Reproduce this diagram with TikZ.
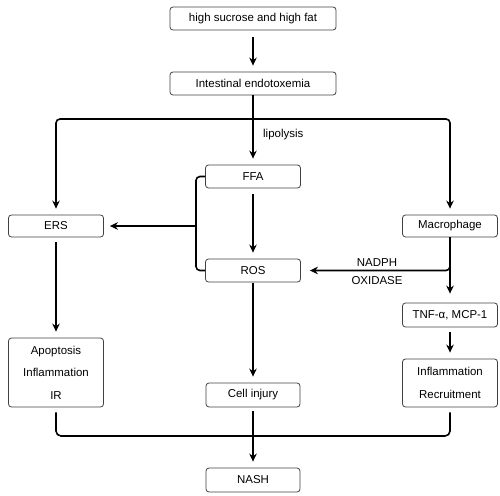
\documentclass[tikz,border=0pt]{standalone}
\usepackage{fontspec}
\setmainfont{Liberation Sans}
\usetikzlibrary{arrows.meta}
\begin{document}
\begin{tikzpicture}[x=1bp,y=-1bp,
  box/.style={draw=black!75,line width=0.8bp,rounded corners=3bp,inner sep=0pt,
    font=\fontsize{11.5}{22.5}\selectfont,align=center},
  ln/.style={line width=1.6bp,black},
  arr/.style={ln,-{Stealth[length=8bp,width=7.5bp]},shorten >=6bp},
  lbl/.style={font=\fontsize{11.5}{12}\selectfont,inner sep=0pt}]
\useasboundingbox (0,0) rectangle (500,496);
\node[box,minimum width=166bp,minimum height=23bp] (hs) at (253,18.5) {high sucrose and high fat};
\node[box,minimum width=166bp,minimum height=23bp] (ie) at (253,83.5) {Intestinal endotoxemia};
\node[box,minimum width=95bp,minimum height=23bp] (ffa) at (253,176.5) {FFA};
\node[box,minimum width=95bp,minimum height=23bp] (ros) at (253,270.5) {ROS};
\node[box,minimum width=95bp,minimum height=22bp] (ers) at (56,226) {ERS};
\node[box,minimum width=95bp,minimum height=22bp] (mac) at (450,226) {Macrophage};
\node[box,minimum width=95bp,minimum height=24bp] (tnf) at (450,315) {TNF-α, MCP-1};
\node[box,minimum width=95bp,minimum height=48bp] (infl) at (450,383) {Inflammation\\Recruitment};
\node[box,minimum width=95bp,minimum height=69bp] (apo) at (56,372.5) {Apoptosis\\Inflammation\\IR};
\node[box,minimum width=94bp,minimum height=24bp] (cell) at (253,395) {Cell injury};
\node[box,minimum width=94bp,minimum height=24bp] (nash) at (253,480) {NASH};
\node[lbl,anchor=west] (lip) at (263,134.5) {lipolysis};
\node[lbl] (nadph) at (377,263) {NADPH};
\node[lbl] (oxi) at (377,281) {OXIDASE};
\coordinate (j1) at (253,119);
\coordinate (br) at (196,226);
\coordinate (jb) at (253,436);
% connectors
\draw[arr,shorten <=7bp] (hs.south) -- (ie.north);
\draw[arr] (ie.south) -- (ffa.north);
\draw[arr,rounded corners=4bp] (j1) -| (ers.north);
\draw[arr,rounded corners=4bp] (j1) -| (mac.north);
\draw[arr,shorten <=6bp] (ffa.south) -- (ros.north);
\draw[ln,rounded corners=4bp] (ffa.west) -| (br) |- (ros.west);
\draw[arr] (br) -- (ers.east);
\draw[arr,shorten >=9bp] (mac.south) -- (tnf.north);
\draw[arr,rounded corners=4bp,shorten >=9bp] (mac.south) |- (ros.east);
\draw[arr,shorten <=5bp] (tnf.south) -- (infl.north);
\draw[arr,shorten <=5bp] (ers.south) -- (apo.north);
\draw[arr,shorten <=1bp] (ros.south) -- (cell.north);
\draw[ln,rounded corners=5bp,shorten <=5bp,shorten >=5bp] (apo.south) |- (jb) -| (infl.south);
\draw[arr,shorten <=4bp] (cell.south) -- (nash.north);
\end{tikzpicture}
\end{document}
